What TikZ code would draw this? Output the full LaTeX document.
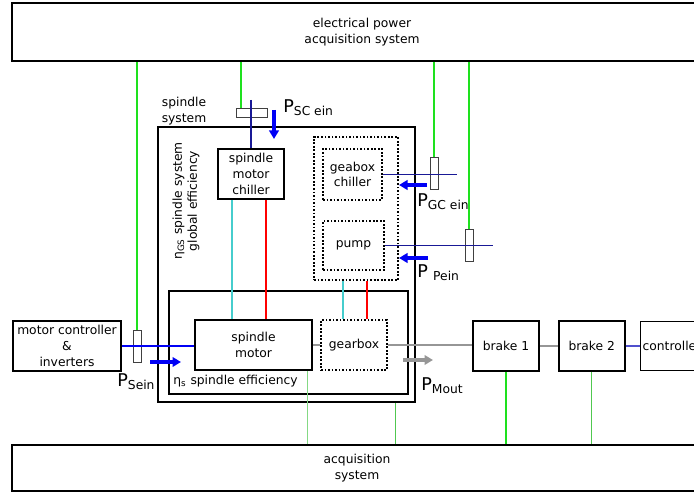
\documentclass[tikz,border=0pt]{standalone}
\usepackage{fontspec}
\setmainfont{DejaVu Sans}
\usepackage{tikz}
\usetikzlibrary{arrows.meta, positioning}
\definecolor{sigGreen}{RGB}{30,225,30}
\definecolor{sigGreenL}{RGB}{80,200,80}
\definecolor{powBlue}{RGB}{0,0,245}
\definecolor{powNavy}{RGB}{25,25,150}
\definecolor{coolCyan}{RGB}{70,205,205}
\definecolor{shaftGray}{RGB}{150,150,150}
\definecolor{busBlue}{RGB}{80,80,205}
\newcommand{\pwr}[1]{P\raisebox{-1.6pt}{\fontsize{7}{7}\selectfont #1}}

\begin{document}
\begin{tikzpicture}[
            x=0.02cm, y=-0.02cm,
            every node/.style={font=\fontsize{7}{9}\selectfont, align=center},
            box/.style={rectangle, draw, line width=1pt, inner sep=0pt},
            dotbox/.style={rectangle, draw, line width=1pt, densely dotted, inner sep=0pt},
            clamp/.style={rectangle, draw=black!75, line width=0.5pt, inner sep=0pt},
            meas/.style={draw=sigGreen, line width=0.7pt},
            supply/.style={draw=powNavy, line width=0.7pt},
            shaft/.style={draw=shaftGray, line width=0.9pt},
            flow/.style={-{Triangle[length=1.7mm, width=1.9mm]}, line width=2.3pt, draw=powBlue},
            plabel/.style={anchor=base west, inner sep=0pt, font=\fontsize{10}{10}\selectfont}
        ]
            \path[use as bounding box, clip] (0,0) rectangle (694,496);
            \node[box, minimum width=14cm, minimum height=1.16cm] (epas) at (362,32) {electrical power\\acquisition system};
            \node[box, minimum width=13.8cm, minimum height=0.92cm] (acq) at (357,468) {acquisition\\system};
            \node[box, minimum width=5.14cm, minimum height=5.5cm] (sys) at (286.5,264.5) {};
            \node[box, minimum width=4.78cm, minimum height=2.06cm] (eff) at (288.5,342.5) {};
            \node[dotbox, minimum width=1.68cm, minimum height=2.86cm] (aux) at (356,208.5) {};
            \node[box, minimum width=1.32cm, minimum height=1cm] (smc) at (251,174) {spindle\\motor\\chiller};
            \node[dotbox, line width=0.7pt, minimum width=1.18cm, minimum height=1.02cm] (gbc) at (352.5,174.5) {geabox\\chiller};
            \node[dotbox, line width=0.7pt, minimum width=1.22cm, minimum height=0.98cm] (pump) at (353.5,245.5) {pump};
            \node[box, minimum width=2.34cm, minimum height=1cm] (sm) at (253.5,345) {spindle\\motor};
            \node[dotbox, minimum width=1.32cm, minimum height=1cm] (gb) at (354,345) {gearbox};
            \node[box, minimum width=2.16cm, minimum height=1cm] (mc) at (67,346) {motor controller\\\&\\inverters};
            \node[box, minimum width=1.32cm, minimum height=1cm] (b1) at (506,346) {brake 1};
            \node[box, minimum width=1.32cm, minimum height=1cm, right=0.36cm of b1] (b2) {brake 2};
            \node[box, minimum width=1.26cm, minimum height=0.98cm, right=0.28cm of b2] (ctrl) {controller};

            \node (lsys) at (184,111) {spindle\\system};
            \node[rotate=90, font=\fontsize{7}{8.5}\selectfont] (lgs) at (186,201) {η\textsubscript{GS} spindle system\\global efficiency};
            \node[anchor=west, inner sep=0pt] (ls) at (173,381) {η\textsubscript{s} spindle efficiency};

            \node[clamp, minimum width=0.62cm, minimum height=0.18cm] (sSC) at (251.5,112.5) {};
            \node[clamp, minimum width=0.16cm, minimum height=0.64cm] (sGC) at (434,173) {};
            \node[clamp, minimum width=0.16cm, minimum height=0.64cm] (sP) at (469,245) {};
            \node[clamp, minimum width=0.16cm, minimum height=0.64cm] (sS) at (137,346) {};
            \coordinate (scin) at (251,100);
            \coordinate (gcin) at (457,0);
            \coordinate (pin) at (493,0);

            \draw[meas] ([xshift=-0.21cm]sSC.north) -- ([xshift=-0.21cm]sSC.north |- epas.south);
            \draw[meas] (sGC.north) -- (sGC.north |- epas.south);
            \draw[meas] (sP.north) -- (sP.north |- epas.south);
            \draw[meas] (sS.north) -- (sS.north |- epas.south);
            \draw[supply] (scin) -- (smc.north);
            \draw[supply] (gbc.east) -- (gbc.east -| gcin);
            \draw[supply] (pump.east) -- (pump.east -| pin);
            \draw[draw=powBlue, line width=0.7pt] (mc.east) -- (mc.east -| sm.west);
            \draw[draw=coolCyan, line width=0.8pt] ([xshift=-0.38cm]smc.south) -- ([xshift=-0.38cm]smc.south |- sm.north);
            \draw[draw=red, line width=0.8pt] ([xshift=0.3cm]smc.south) -- ([xshift=0.3cm]smc.south |- sm.north);
            \draw[draw=coolCyan, line width=0.8pt] ([xshift=-0.26cm]aux.south) -- ([xshift=-0.26cm]aux.south |- gb.north);
            \draw[draw=red, line width=0.8pt] ([xshift=0.22cm]aux.south) -- ([xshift=0.22cm]aux.south |- gb.north);
            \draw[shaft] (sm.east) -- (gb.west);
            \draw[shaft] (gb.east) -- (gb.east -| b1.west);
            \draw[shaft] (b1.east) -- (b2.west);
            \draw[draw=busBlue, line width=1.3pt] (b2.east) -- (ctrl.west);
            \draw[meas, draw=sigGreenL!70!white] ([xshift=-0.1cm]sm.south east) -- ([xshift=-0.1cm]sm.south east |- acq.north);
            \draw[meas, draw=sigGreenL] ([xshift=-0.4cm]sys.south east) -- ([xshift=-0.4cm]sys.south east |- acq.north);
            \draw[meas] (b1.south) -- (b1.south |- acq.north);
            \draw[meas, draw=sigGreenL] (b2.south) -- (b2.south |- acq.north);

            \draw[flow] (274,110) -- (274,139);
            \draw[flow] (427,185) -- (399,185);
            \draw[flow] (428,258) -- (399,258);
            \draw[flow] (150,362) -- (181,362);
            \draw[flow, draw=shaftGray, line width=2pt] (403,360) -- (433,360);
            \node[plabel] (lsc) at (283,113) {\pwr{SC ein}};
            \node[plabel] (lgc) at (417,207) {\pwr{GC ein}};
            \node[plabel] (lp) at (417,278) {\pwr{\hspace{3pt}Pein}};
            \node[plabel] (lse) at (117,387) {\pwr{Sein}};
            \node[plabel] (lmo) at (421,391) {\pwr{Mout}};
        \end{tikzpicture}
\end{document}
